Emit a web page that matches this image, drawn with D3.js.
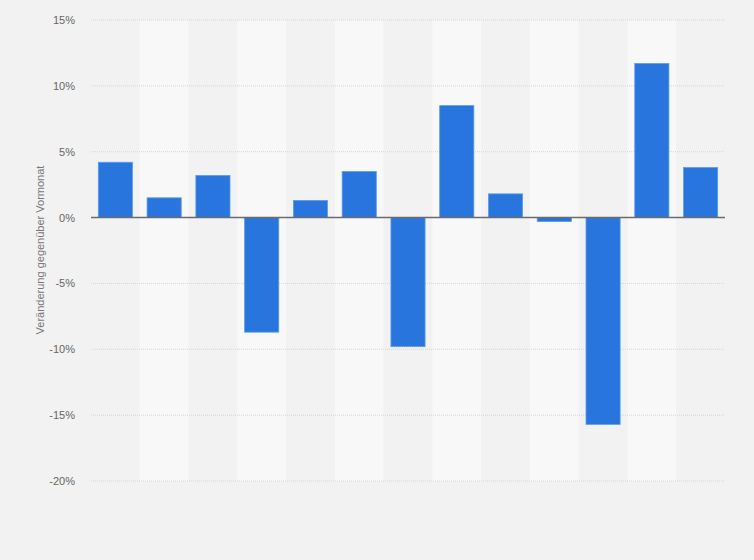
<!DOCTYPE html>
<html>
<head>
<meta charset="utf-8">
<script src="https://cdn.jsdelivr.net/npm/d3@7"></script>
<style>
  body { margin: 0; background: #f2f2f2; }
  svg { display: block; font-family: "Liberation Sans", Arial, sans-serif; }
</style>
</head>
<body>
<svg id="chart"></svg>
<script>
// one bar per month, change vs. previous month in %
var months = ["1", "2", "3", "4", "5", "6", "7", "8", "9", "10", "11", "12", "13"];
var values = [4.2, 1.5, 3.2, -8.7, 1.3, 3.5, -9.8, 8.5, 1.8, -0.3, -15.7, 11.7, 3.8];
var yTicks = [15, 10, 5, 0, -5, -10, -15, -20];
var yTitle = "Veränderung gegenüber Vormonat";

var W = 754, H = 560;
var margin = { top: 20, right: 29, bottom: 79, left: 91 },
    w = W - margin.left - margin.right,
    h = H - margin.top - margin.bottom;

var svg = d3.select("#chart").attr("width", W).attr("height", H);
svg.append("rect").attr("width", W).attr("height", H).attr("fill", "#f2f2f2");

var g = svg.append("g").attr("transform", `translate(${margin.left}, ${margin.top})`);

var x = d3.scaleBand().domain(months).range([0, w]).paddingInner(0.3).paddingOuter(0.15);
var y = d3.scaleLinear().domain([-20, 15]).range([h, 0]);

// alternating column bands
var step = w / months.length;
g.selectAll(".band")
    .data(months)
    .join("rect")
    .attr("class", "band")
    .attr("x", (d, i) => i * step)
    .attr("y", 0)
    .attr("width", step)
    .attr("height", h)
    .attr("fill", (d, i) => i % 2 ? "#f8f8f8" : "#f2f2f2");

// grid lines
g.selectAll(".grid")
    .data(yTicks.filter(t => t !== 0))
    .join("line")
    .attr("class", "grid")
    .attr("x1", 0).attr("x2", w)
    .attr("y1", d => y(d)).attr("y2", d => y(d))
    .attr("stroke", "#d6d6d6")
    .attr("stroke-width", 1)
    .attr("stroke-dasharray", "1,1");

// y axis labels
var yAxis = d3.axisLeft(y).tickValues(yTicks).tickSize(0).tickPadding(16).tickFormat(d => d + "%");
g.append("g").call(yAxis)
    .call(s => s.select(".domain").remove())
    .selectAll("text")
    .attr("fill", "#666")
    .style("font-size", "11px");

// axis title
svg.append("text")
    .attr("transform", "rotate(-90)")
    .attr("x", -250)
    .attr("y", 44)
    .attr("text-anchor", "middle")
    .attr("fill", "#777")
    .style("font-size", "11px")
    .text(yTitle);

// bars
g.selectAll(".bar")
    .data(values)
    .join("rect")
    .attr("class", "bar")
    .attr("x", (d, i) => x(months[i]))
    .attr("width", x.bandwidth())
    .attr("y", d => y(Math.max(0, d)))
    .attr("height", d => Math.abs(y(d) - y(0)))
    .attr("fill", "#2876dd")
    .attr("stroke", "#5a9bee")
    .attr("stroke-width", 0.8);

// zero line
g.append("line")
    .attr("x1", 0).attr("x2", w)
    .attr("y1", y(0)).attr("y2", y(0))
    .attr("stroke", "#6b6b6b")
    .attr("stroke-width", 1.5);
</script>
</body>
</html>
